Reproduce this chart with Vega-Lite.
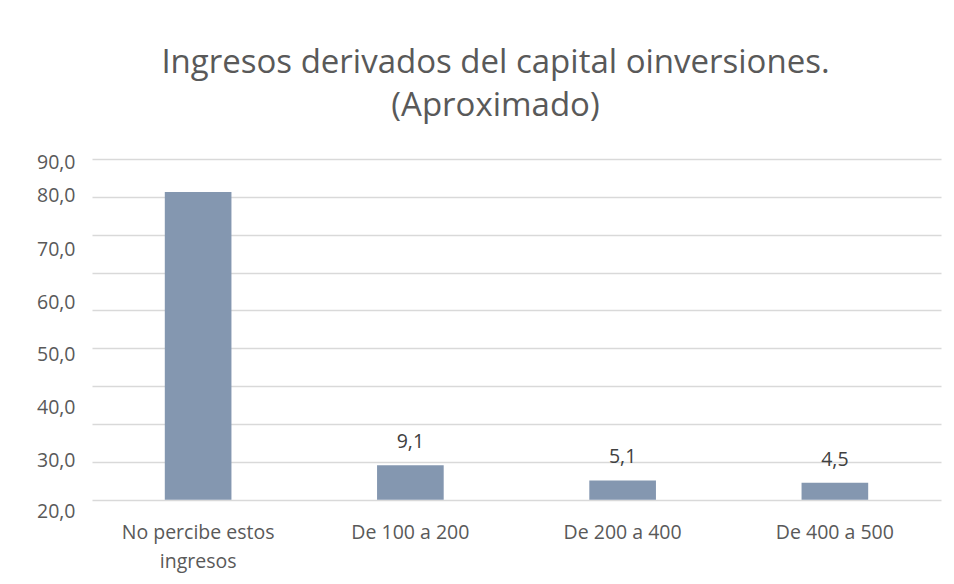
{
  "$schema": "https://vega.github.io/schema/vega-lite/v6.json",
  "autosize": "none",
  "width": 849,
  "height": 354,
  "padding": {"left": 92, "top": 159, "right": 13, "bottom": 71},
  "background": "white",
  "title": {
    "text": ["Ingresos derivados del capital oinversiones.", "(Aproximado)"],
    "font": "Open Sans",
    "fontSize": 33,
    "fontWeight": "normal",
    "color": "#595959",
    "lineHeight": 43,
    "anchor": "middle",
    "frame": "group",
    "dx": -21,
    "offset": 29
  },
  "data": {
    "values": [
      {"categoria": "No percibe estos ingresos", "valor": 81.3},
      {"categoria": "De 100 a 200", "valor": 9.1},
      {"categoria": "De 200 a 400", "valor": 5.1},
      {"categoria": "De 400 a 500", "valor": 4.5}
    ]
  },
  "encoding": {
    "x": {
      "field": "categoria",
      "type": "nominal",
      "sort": null,
      "title": null,
      "scale": {"paddingInner": 0.686, "paddingOuter": 0.343},
      "axis": {
        "labelAngle": 0,
        "domain": false,
        "ticks": false,
        "tickSize": 0,
        "labelPadding": 10,
        "labelFont": "Open Sans",
        "labelFontSize": 19.5,
        "labelColor": "#595959",
        "labelLineHeight": 29,
        "labelExpr": "datum.value == 'No percibe estos ingresos' ? ['No percibe estos', 'ingresos'] : datum.label"
      }
    }
  },
  "layer": [
    {
      "mark": {"type": "bar", "color": "#8497B0"},
      "encoding": {
        "y": {
          "field": "valor",
          "type": "quantitative",
          "title": null,
          "scale": {"domain": [-3.5, 90], "nice": false, "zero": false},
          "axis": {
            "values": [0, 10, 20, 30, 40, 50, 60, 70, 80, 90],
            "grid": true,
            "gridColor": "#d9d9d9",
            "gridWidth": 1.3,
            "labels": false,
            "ticks": false,
            "domain": false,
            "orient": "left"
          }
        },
        "y2": {"datum": 0}
      }
    },
    {
      "transform": [{"filter": "datum.valor < 50"}],
      "mark": {
        "type": "text",
        "font": "Open Sans",
        "fontSize": 19.5,
        "color": "#404040",
        "baseline": "alphabetic",
        "dy": -17
      },
      "encoding": {
        "y": {
          "field": "valor",
          "type": "quantitative",
          "title": null,
          "axis": {
            "orient": "left",
            "grid": false,
            "domain": false,
            "ticks": false,
            "tickSize": 0,
            "labelPadding": 17,
            "labelFont": "Open Sans",
            "labelFontSize": 19.5,
            "labelColor": "#595959",
            "values": [89.2, 80.3, 66.0, 52.1, 38.3, 24.4, 10.4, -3.2],
            "labelExpr": "datum.value > 85 ? '90,0' : datum.value > 75 ? '80,0' : datum.value > 60 ? '70,0' : datum.value > 45 ? '60,0' : datum.value > 30 ? '50,0' : datum.value > 15 ? '40,0' : datum.value > 0 ? '30,0' : '20,0'"
          }
        },
        "text": {"field": "valor", "type": "quantitative", "format": ".1f"}
      }
    }
  ],
  "resolve": {"axis": {"y": "independent"}},
  "config": {
    "view": {"stroke": null},
    "locale": {"number": {"decimal": ",", "thousands": ".", "grouping": [3], "currency": ["", " €"]}}
  }
}
